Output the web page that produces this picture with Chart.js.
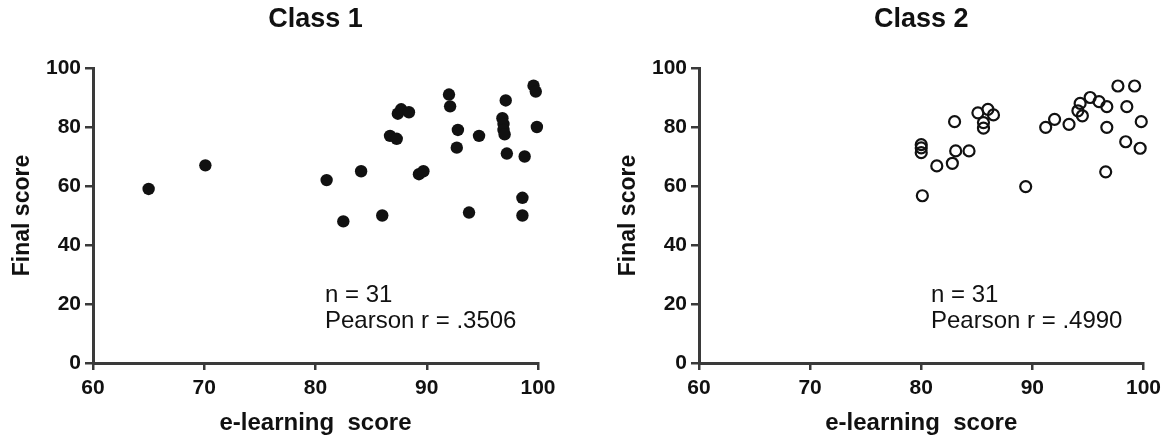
<!DOCTYPE html>
<html>
<head>
<meta charset="utf-8">
<script src="https://cdn.jsdelivr.net/npm/chart.js@4.4.1/dist/chart.umd.min.js"></script>
<style>
  body { margin: 0; background: #fff; }
  #wrap { position: relative; width: 1167px; height: 440px; overflow: hidden; }
  #wrap canvas { position: absolute; top: 0; }
</style>
</head>
<body>
<div id="wrap">
  <canvas id="class1" width="583" height="440"></canvas>
  <canvas id="class2" width="561" height="440"></canvas>
</div>
<script>
// values
let class1X = [65, 70.1, 81, 82.5, 84.1, 86, 86.7, 87.3, 87.4, 87.7, 88.4, 89.3, 89.7, 92, 92.1, 92.8, 92.7, 93.8, 94.7, 96.8, 96.9, 96.9, 97, 97.1, 97.2, 98.6, 98.6, 98.8, 99.6, 99.8, 99.9];
let class1Y = [59, 67, 62, 48, 65, 50, 77, 76, 84.5, 86, 85, 64, 65, 91, 87, 79, 73, 51, 77, 83, 81, 79, 77.5, 89, 71, 56, 50, 70, 94, 92, 80];

let class2X = [80, 80, 80, 80.1, 81.4, 82.8, 83.1, 83, 84.3, 85.1, 86, 86.5, 85.6, 85.6, 89.4, 91.2, 92, 93.3, 94.3, 94.1, 94.5, 95.2, 96, 96.7, 96.7, 96.6, 97.7, 99.2, 98.5, 99.8, 98.4, 99.7];
let class2Y = [74, 72.9, 71.3, 56.7, 66.8, 67.7, 71.9, 81.8, 71.9, 84.8, 86, 84.1, 81.5, 79.6, 59.8, 79.9, 82.6, 80.9, 88, 85.5, 83.8, 90, 88.6, 86.9, 79.9, 64.8, 93.9, 93.9, 86.9, 81.8, 75, 72.8];

let xTicks = [60, 70, 80, 90, 100];
let yTicks = [0, 20, 40, 60, 80, 100];

const FONT = 'Arial, "Liberation Sans", sans-serif';
const INK = '#111';
const AXIS = '#3a3a3a';

function toPoints(xs, ys) {
  return xs.map((x, i) => ({ x: x, y: ys[i] }));
}

// title above the panel and the n / r note inside it
const panelText = {
  id: 'panelText',
  afterDraw(chart, args, opts) {
    const ctx = chart.ctx;
    const a = chart.chartArea;
    ctx.save();
    ctx.fillStyle = INK;
    ctx.textAlign = 'center';
    ctx.textBaseline = 'middle';
    ctx.font = 'bold 27px ' + FONT;
    ctx.fillText(opts.title, (a.left + a.right) / 2, 20);
    ctx.textAlign = 'left';
    ctx.textBaseline = 'alphabetic';
    ctx.font = '24px ' + FONT;
    opts.lines.forEach((t, i) => {
      ctx.fillText(t, a.left + 232, a.top + 234 + i * 26);
    });
    ctx.restore();
  }
};

function makeChart(id, left, padRight, points, filled, title, lines) {
  const canvas = document.getElementById(id);
  canvas.style.left = left + 'px';
  return new Chart(canvas, {
    type: 'scatter',
    data: {
      datasets: [{
        data: points,
        pointStyle: 'circle',
        pointRadius: filled ? 6.2 : 5.5,
        pointHoverRadius: filled ? 6.2 : 5.5,
        borderWidth: filled ? 0 : 2.2,
        borderColor: INK,
        backgroundColor: filled ? INK : 'rgba(0,0,0,0)',
        clip: false
      }]
    },
    options: {
      responsive: false,
      animation: false,
      events: [],
      layout: { padding: { top: 68, right: padRight, left: 0, bottom: 0 } },
      plugins: {
        legend: { display: false },
        tooltip: { enabled: false },
        panelText: { title: title, lines: lines }
      },
      scales: {
        x: {
          type: 'linear',
          min: xTicks[0],
          max: xTicks[xTicks.length - 1],
          afterBuildTicks: s => { s.ticks = xTicks.map(v => ({ value: v })); },
          afterFit: s => { s.height = 77; },
          ticks: { color: INK, padding: 6, font: { family: FONT, size: 21, weight: 'bold' } },
          grid: { drawOnChartArea: false, drawTicks: true, tickLength: 7, color: AXIS, lineWidth: 2.5 },
          border: { color: AXIS, width: 3 },
          title: {
            display: true,
            text: 'e-learning  score',
            color: INK,
            font: { family: FONT, size: 24, weight: 'bold' },
            padding: { top: 0, bottom: 2 }
          }
        },
        y: {
          type: 'linear',
          min: yTicks[0],
          max: yTicks[yTicks.length - 1],
          afterBuildTicks: s => { s.ticks = yTicks.map(v => ({ value: v })); },
          afterFit: s => { s.width = 93; },
          ticks: { color: INK, padding: 4, font: { family: FONT, size: 21, weight: 'bold' } },
          grid: { drawOnChartArea: false, drawTicks: true, tickLength: 8, color: AXIS, lineWidth: 2.5 },
          border: { color: AXIS, width: 3 },
          title: {
            display: true,
            text: 'Final score',
            color: INK,
            font: { family: FONT, size: 23, weight: 'bold' },
            padding: { top: 9, bottom: 0 }
          }
        }
      }
    },
    plugins: [panelText]
  });
}

makeChart('class1', 0, 45, toPoints(class1X, class1Y), true, 'Class 1', ['n = 31', 'Pearson r = .3506']);
makeChart('class2', 606, 22, toPoints(class2X, class2Y), false, 'Class 2', ['n = 31', 'Pearson r = .4990']);
</script>
</body>
</html>
